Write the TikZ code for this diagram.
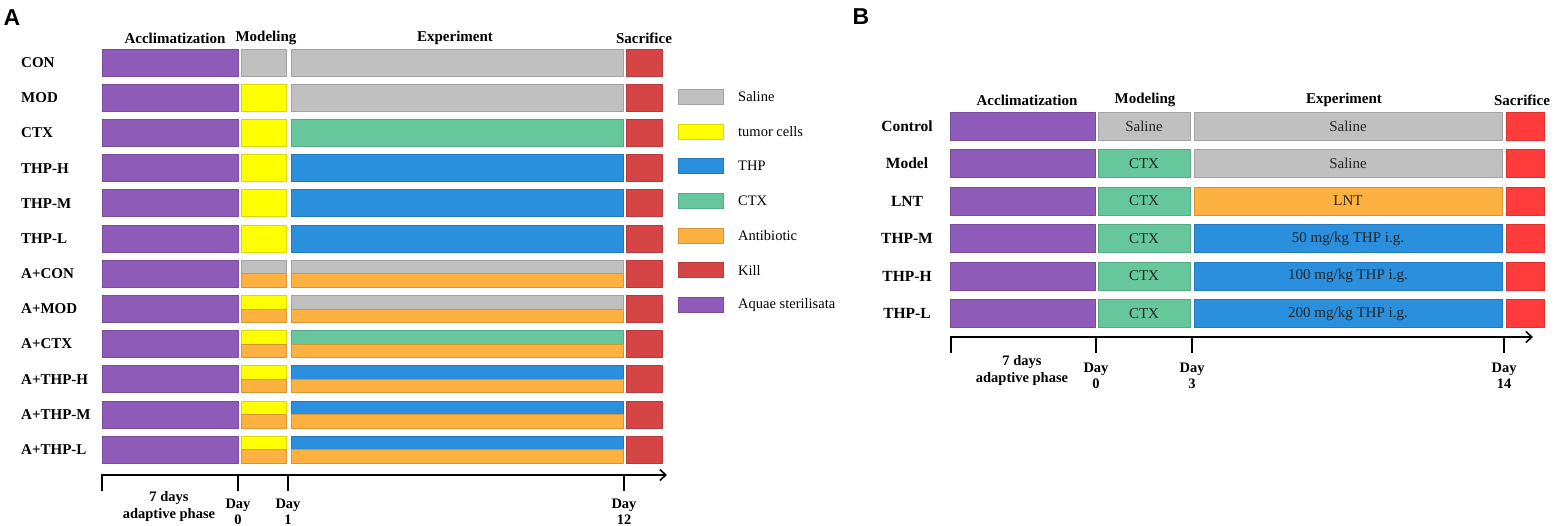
\documentclass[tikz,border=0pt]{standalone}
\usepackage{fontspec}
\setmainfont{Liberation Serif}
\newfontfamily\panelfont{Liberation Sans}
\usetikzlibrary{arrows.meta}
\definecolor{cpur}{HTML}{8E5BB8}
\definecolor{cgry}{HTML}{C0C0C0}
\definecolor{cyel}{HTML}{FFFF00}
\definecolor{cblu}{HTML}{2A8FDD}
\definecolor{cgrn}{HTML}{66C79C}
\definecolor{corg}{HTML}{FDB140}
\definecolor{credA}{HTML}{D64545}
\definecolor{credB}{HTML}{FF3B3B}
\begin{document}
\begin{tikzpicture}[x=1pt,y=-1pt,
  bar/.style={rectangle, inner sep=0pt, outer sep=0pt, anchor=north west, line width=0.7pt, fill=#1, draw=#1!85!black},
  rowlab/.style={font=\fontsize{15}{17}\selectfont\bfseries, anchor=west, inner sep=0pt},
  rowlabB/.style={font=\fontsize{15.5}{17}\selectfont\bfseries, inner sep=0pt},
  head/.style={font=\fontsize{15}{17}\selectfont\bfseries, inner sep=0pt},
  legtxt/.style={font=\fontsize{14.5}{17}\selectfont, anchor=west, inner sep=0pt},
  bartxt/.style={font=\fontsize{15}{17}\selectfont, text=black!85},
  daylab/.style={font=\fontsize{14.5}{16}\selectfont\bfseries, align=center, inner sep=0pt},
  axisline/.style={line width=1.4pt, -{Straight Barb[length=6pt,width=11pt,line width=1.6pt]}},
  tick/.style={line width=1.4pt},
  panel/.style={font=\fontsize{23}{25}\selectfont\panelfont\bfseries, inner sep=0pt}
]
\useasboundingbox (0,0) rectangle (1557,526);

% ---------------- Panel A ----------------
\node[panel] (pA) at (12,18) {A};
\node[head] (hA1) at (175,38) {Acclimatization};
\node[head] (hA2) at (266,38) {Modeling};
\node[head] (hA3) at (455,38) {Experiment};
\node[head] (hA4) at (644,38) {Sacrifice};

\foreach \i/\lab/\m/\e/\s in {0/CON/cgry/cgry/0, 1/MOD/cyel/cgry/0, 2/CTX/cyel/cgrn/0,
  3/THP-H/cyel/cblu/0, 4/THP-M/cyel/cblu/0, 5/THP-L/cyel/cblu/0,
  6/A+CON/cgry/cgry/1, 7/A+MOD/cyel/cgry/1, 8/A+CTX/cyel/cgrn/1,
  9/A+THP-H/cyel/cblu/1, 10/A+THP-M/cyel/cblu/1, 11/A+THP-L/cyel/cblu/1}{
  \pgfmathsetmacro\t{49+35.2*\i}
  \node[rowlab] (la\i) at (21,\t+13.5) {\lab};
  \node[bar=cpur, minimum width=136pt, minimum height=27pt] (ap\i) at (102,\t) {};
  \ifnum\s=0
    \node[bar=\m, minimum width=45pt, minimum height=27pt] (am\i) at (241,\t) {};
    \node[bar=\e, minimum width=332pt, minimum height=27pt] (ae\i) at (291,\t) {};
  \else
    \node[bar=\m, minimum width=45pt, minimum height=13.5pt] (am\i) at (241,\t) {};
    \node[bar=corg, minimum width=45pt, minimum height=13.5pt] (amo\i) at (241,\t+13.5) {};
    \node[bar=\e, minimum width=332pt, minimum height=13.5pt] (ae\i) at (291,\t) {};
    \node[bar=corg, minimum width=332pt, minimum height=13.5pt] (aeo\i) at (291,\t+13.5) {};
  \fi
  \node[bar=credA, minimum width=36pt, minimum height=27pt] (as\i) at (626,\t) {};
}

% legend
\foreach \k/\c/\txt in {1/cgry/Saline, 2/cyel/tumor cells, 3/cblu/THP, 4/cgrn/CTX,
  5/corg/Antibiotic, 6/credA/Kill, 7/cpur/Aquae sterilisata}{
  \pgfmathsetmacro\yy{97+34.6*(\k-1)}
  \node[bar=\c, minimum width=45pt, minimum height=15pt] (lg\k) at (678,\yy-7.5) {};
  \node[legtxt] (lt\k) at (738,\yy) {\txt};
}

% axis A
\coordinate (axA0) at (102,475);
\coordinate (axA0b) at (102,491);
\coordinate (axAend) at (667,475);
\draw[axisline] (axA0b) -- (axA0) -- (axAend);
\coordinate (tA1) at (238,475); \coordinate (tA1b) at (238,491);
\coordinate (tA2) at (288,475); \coordinate (tA2b) at (288,491);
\coordinate (tA3) at (624,475); \coordinate (tA3b) at (624,491);
\draw[tick] (tA1) -- (tA1b);
\draw[tick] (tA2) -- (tA2b);
\draw[tick] (tA3) -- (tA3b);
\node[daylab] (dA0) at (169,507) {7 days\\[1pt]adaptive phase};
\node[daylab] (dA1) at (238,512) {Day\\0};
\node[daylab] (dA2) at (288,512) {Day\\1};
\node[daylab] (dA3) at (624,512) {Day\\12};

% ---------------- Panel B ----------------
\node[panel] (pB) at (861,17) {B};
\node[head] (hB1) at (1027,100) {Acclimatization};
\node[head] (hB2) at (1145,100) {Modeling};
\node[head] (hB3) at (1344,100) {Experiment};
\node[head] (hB4) at (1522,100) {Sacrifice};

\foreach \j/\lab/\m/\mt/\e/\et in {0/Control/cgry/Saline/cgry/Saline,
  1/Model/cgrn/CTX/cgry/Saline, 2/LNT/cgrn/CTX/corg/LNT,
  3/THP-M/cgrn/CTX/cblu/{50 mg/kg THP i.g.}, 4/THP-H/cgrn/CTX/cblu/{100 mg/kg THP i.g.},
  5/THP-L/cgrn/CTX/cblu/{200 mg/kg THP i.g.}}{
  \pgfmathsetmacro\t{112+37.5*\j}
  \node[rowlabB] (lb\j) at (907,\t+14) {\lab};
  \node[bar=cpur, minimum width=145pt, minimum height=28pt] (bp\j) at (950,\t) {};
  \node[bar=\m, minimum width=92pt, minimum height=28pt] (bm\j) at (1098,\t) {};
  \node[bartxt] (bmt\j) at (bm\j.center) {\mt};
  \node[bar=\e, minimum width=308pt, minimum height=28pt] (be\j) at (1194,\t) {};
  \node[bartxt] (bet\j) at (be\j.center) {\et};
  \node[bar=credB, minimum width=38pt, minimum height=28pt] (bs\j) at (1506,\t) {};
}

% axis B
\coordinate (axB0) at (951,337);
\coordinate (axB0b) at (951,353);
\coordinate (axBend) at (1533,337);
\draw[axisline] (axB0b) -- (axB0) -- (axBend);
\coordinate (tB1) at (1096,337); \coordinate (tB1b) at (1096,353);
\coordinate (tB2) at (1192,337); \coordinate (tB2b) at (1192,353);
\coordinate (tB3) at (1504,337); \coordinate (tB3b) at (1504,353);
\draw[tick] (tB1) -- (tB1b);
\draw[tick] (tB2) -- (tB2b);
\draw[tick] (tB3) -- (tB3b);
\node[daylab] (dB0) at (1022,371) {7 days\\[1pt]adaptive phase};
\node[daylab] (dB1) at (1096,376) {Day\\0};
\node[daylab] (dB2) at (1192,376) {Day\\3};
\node[daylab] (dB3) at (1504,376) {Day\\14};
\end{tikzpicture}
\end{document}
